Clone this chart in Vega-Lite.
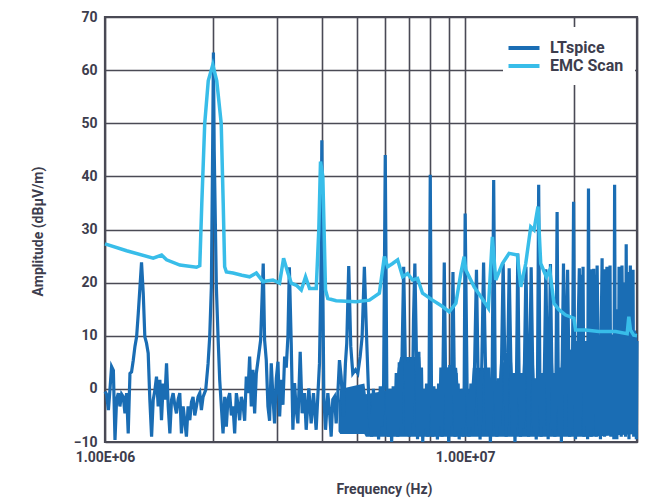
{
  "$schema": "https://vega.github.io/schema/vega-lite/v6.json",
  "width": 532,
  "height": 425,
  "autosize": {"type": "none"},
  "padding": {"left": 105, "top": 17, "right": 15, "bottom": 62},
  "config": {
    "font": "Roboto",
    "view": {"stroke": "#4a4a55", "strokeWidth": 2.2},
    "axis": {
      "labelFont": "Roboto", "labelFontWeight": "bold", "labelFontSize": 14, "labelColor": "#3d3d4d",
      "titleFont": "Roboto", "titleFontWeight": "bold", "titleFontSize": 14, "titleColor": "#3d3d4d",
      "ticks": false, "domain": false, "gridColor": "#4a4a55", "gridWidth": 1.6, "gridOpacity": 1,
      "labelPadding": 8, "labelFlush": false
    }
  },
  "datasets": {
    "floor": [
      {"f":4.45,"lo":-8,"hi":-3},{"f":4.5,"lo":-8.5,"hi":0},{"f":5.25,"lo":-8.5,"hi":1},{"f":5.3,"lo":-9,"hi":-1},
      {"f":6.4,"lo":-9,"hi":0},{"f":6.5,"lo":-9,"hi":4},{"f":6.6,"lo":-9,"hi":6},{"f":7.5,"lo":-9,"hi":6},
      {"f":7.6,"lo":-9,"hi":0},{"f":8.5,"lo":-9,"hi":0},{"f":8.6,"lo":-9,"hi":4},{"f":9.5,"lo":-9,"hi":4},
      {"f":9.6,"lo":-9,"hi":0},{"f":10.4,"lo":-9,"hi":0},{"f":10.5,"lo":-9,"hi":4},{"f":11.5,"lo":-9,"hi":4},
      {"f":11.6,"lo":-9,"hi":1},{"f":12.4,"lo":-9,"hi":1},{"f":12.5,"lo":-9,"hi":5},{"f":13.5,"lo":-9,"hi":5},
      {"f":13.6,"lo":-9,"hi":1},{"f":14.4,"lo":-9,"hi":1},{"f":14.5,"lo":-9,"hi":6},{"f":15.5,"lo":-9,"hi":6},
      {"f":15.6,"lo":-9,"hi":1},{"f":16.4,"lo":-9,"hi":1},{"f":16.5,"lo":-9,"hi":6.5},{"f":17.5,"lo":-9,"hi":6.5},
      {"f":17.6,"lo":-9,"hi":2},{"f":18.4,"lo":-9,"hi":3},{"f":18.5,"lo":-9,"hi":7.5},{"f":19.5,"lo":-9,"hi":7.5},
      {"f":20.0,"lo":-9,"hi":7},{"f":20.5,"lo":-9,"hi":9},{"f":21.5,"lo":-9,"hi":9},{"f":22.0,"lo":-9,"hi":8},
      {"f":22.5,"lo":-9,"hi":10},{"f":30.0,"lo":-8.5,"hi":10.5}
    ],
    "lt": [
      {"f":1.0,"a":-0.5},{"f":1.01,"a":-1},{"f":1.022,"a":-4},{"f":1.03,"a":-1},{"f":1.043,"a":4.2},{"f":1.055,"a":3.5},
      {"f":1.066,"a":-9.6},{"f":1.077,"a":-2},{"f":1.089,"a":-0.8},{"f":1.1,"a":-3.3},{"f":1.112,"a":-1},{"f":1.124,"a":-1.5},
      {"f":1.136,"a":-4.6},{"f":1.148,"a":-0.8},{"f":1.16,"a":-8.4},{"f":1.173,"a":2.9},{"f":1.185,"a":3.2},{"f":1.198,"a":5.4},
      {"f":1.211,"a":8.0},{"f":1.224,"a":9.8},{"f":1.237,"a":14.2},{"f":1.25,"a":19},{"f":1.263,"a":23.8},{"f":1.277,"a":18},
      {"f":1.29,"a":9.8},{"f":1.304,"a":8.6},{"f":1.318,"a":6.7},{"f":1.332,"a":-2.1},{"f":1.347,"a":-9.0},{"f":1.361,"a":-2.1},
      {"f":1.376,"a":-0.2},{"f":1.39,"a":2.3},{"f":1.405,"a":-3.3},{"f":1.42,"a":1.7},{"f":1.435,"a":-5.9},{"f":1.451,"a":1.0},
      {"f":1.466,"a":-2},{"f":1.482,"a":4.8},{"f":1.498,"a":-3.3},{"f":1.514,"a":-8.4},{"f":1.53,"a":-2.1},{"f":1.546,"a":-0.8},
      {"f":1.562,"a":-3},{"f":1.579,"a":-4.6},{"f":1.596,"a":-2},{"f":1.613,"a":-0.8},{"f":1.63,"a":-8.4},{"f":1.648,"a":-3.3},
      {"f":1.665,"a":-6},{"f":1.683,"a":-9.0},{"f":1.701,"a":-3.3},{"f":1.72,"a":-5.9},{"f":1.738,"a":-2.5},{"f":1.756,"a":-1.5},
      {"f":1.775,"a":-5},{"f":1.794,"a":-3.3},{"f":1.813,"a":-1.5},{"f":1.833,"a":-0.8},{"f":1.852,"a":-4},{"f":1.872,"a":-1.5},
      {"f":1.904,"a":-0.2},{"f":1.933,"a":4.8},{"f":1.953,"a":9.8},{"f":1.974,"a":19.2},{"f":1.99,"a":45},{"f":2.0,"a":63.3},
      {"f":2.01,"a":45},{"f":2.038,"a":19.2},{"f":2.06,"a":9.8},{"f":2.082,"a":1.7},{"f":2.104,"a":-3.3},{"f":2.127,"a":-8.4},
      {"f":2.15,"a":-1.5},{"f":2.172,"a":-7.1},{"f":2.195,"a":-2},{"f":2.219,"a":-0.8},{"f":2.243,"a":-5},{"f":2.267,"a":-3.3},
      {"f":2.291,"a":-8.4},{"f":2.316,"a":-0.8},{"f":2.34,"a":-3},{"f":2.365,"a":-5.9},{"f":2.39,"a":-1.5},{"f":2.416,"a":-2.8},
      {"f":2.442,"a":-6},{"f":2.468,"a":2.3},{"f":2.494,"a":-0.8},{"f":2.521,"a":6.1},{"f":2.548,"a":-3.3},{"f":2.575,"a":3.6},
      {"f":2.603,"a":-4.6},{"f":2.631,"a":2.9},{"f":2.676,"a":6.7},{"f":2.705,"a":9.2},{"f":2.75,"a":23.6},{"f":2.774,"a":9.2},
      {"f":2.804,"a":5.4},{"f":2.834,"a":-3.3},{"f":2.864,"a":-6},{"f":2.895,"a":4.8},{"f":2.926,"a":-1.5},{"f":2.957,"a":-6.5},
      {"f":2.99,"a":2},{"f":3.022,"a":5.1},{"f":3.054,"a":-5.2},{"f":3.087,"a":1.7},{"f":3.119,"a":-3},{"f":3.153,"a":6.1},
      {"f":3.186,"a":4},{"f":3.22,"a":9.8},{"f":3.25,"a":22.9},{"f":3.289,"a":8.6},{"f":3.324,"a":-7.7},{"f":3.36,"a":1.1},
      {"f":3.396,"a":-4},{"f":3.432,"a":-6.5},{"f":3.483,"a":7.0},{"f":3.527,"a":-4.6},{"f":3.581,"a":-0.8},{"f":3.619,"a":-7.7},
      {"f":3.681,"a":0.1},{"f":3.736,"a":-6.5},{"f":3.792,"a":-0.8},{"f":3.857,"a":-7.7},{"f":3.898,"a":-1.5},{"f":3.94,"a":4.8},
      {"f":3.975,"a":20},{"f":4.0,"a":46.8},{"f":4.025,"a":20},{"f":4.051,"a":-1.5},{"f":4.095,"a":-7.7},{"f":4.156,"a":-0.8},
      {"f":4.2,"a":-4},{"f":4.246,"a":-9.0},{"f":4.29,"a":-2},{"f":4.337,"a":-1.5},{"f":4.384,"a":-6.5},{"f":4.43,"a":-1},
      {"f":4.477,"a":5.4},{"f":4.525,"a":2.3},{"f":4.592,"a":-5.2},{"f":4.651,"a":4.8},{"f":4.691,"a":8.6},{"f":4.75,"a":23.1},
      {"f":4.813,"a":8.0},{"f":4.875,"a":2.9},{"f":4.959,"a":3.6},{"f":5.034,"a":2.9},{"f":5.11,"a":6.1},{"f":5.175,"a":9.8},
      {"f":5.25,"a":23.0},{"f":5.332,"a":8.6},{"f":5.421,"a":-5.2},
      {"f":5.5,"a":-9},{"f":5.5625,"a":0},{"f":5.625,"a":-8},{"f":5.6875,"a":-1},{"f":5.75,"a":-9.5},{"f":5.8125,"a":0.5},
      {"f":5.875,"a":-7},{"f":5.9375,"a":1},{"f":6.0,"a":44},{"f":6.0625,"a":-1},{"f":6.125,"a":-9},{"f":6.1875,"a":0},
      {"f":6.25,"a":-10},{"f":6.3125,"a":0.5},{"f":6.375,"a":-8},{"f":6.4375,"a":3},{"f":6.5,"a":-9},{"f":6.5625,"a":5},
      {"f":6.625,"a":-7},{"f":6.6875,"a":8},{"f":6.75,"a":23},{"f":6.8125,"a":7},{"f":6.875,"a":-8.5},{"f":6.9375,"a":5},
      {"f":7.0,"a":-9},{"f":7.0625,"a":5.5},{"f":7.125,"a":-6.5},{"f":7.1875,"a":13},{"f":7.25,"a":23.6},{"f":7.3125,"a":9},
      {"f":7.375,"a":-9.5},{"f":7.4375,"a":7},{"f":7.5,"a":-8},{"f":7.5625,"a":4},{"f":7.625,"a":-10},{"f":7.6875,"a":0},
      {"f":7.75,"a":-7.5},{"f":7.8125,"a":1},{"f":7.875,"a":-9},{"f":7.9375,"a":0},{"f":8.0,"a":40.3},{"f":8.0625,"a":-0.5},
      {"f":8.125,"a":-9},{"f":8.1875,"a":0.5},{"f":8.25,"a":-8},{"f":8.3125,"a":-0.5},{"f":8.375,"a":-9.5},{"f":8.4375,"a":1},
      {"f":8.5,"a":-7},{"f":8.5625,"a":4},{"f":8.625,"a":-9},{"f":8.6875,"a":6},{"f":8.75,"a":23.8},{"f":8.8125,"a":5},
      {"f":8.875,"a":-8.5},{"f":8.9375,"a":4},{"f":9.0,"a":-10},{"f":9.0625,"a":4.5},{"f":9.125,"a":-7},{"f":9.1875,"a":7},
      {"f":9.25,"a":22},{"f":9.3125,"a":6},{"f":9.375,"a":-9},{"f":9.4375,"a":3},{"f":9.5,"a":-8},{"f":9.5625,"a":1},
      {"f":9.625,"a":-9.5},{"f":9.6875,"a":-0.5},{"f":9.75,"a":-7.5},{"f":9.8125,"a":0},{"f":9.875,"a":-9},{"f":9.9375,"a":0.5},
      {"f":10.0,"a":33},
      {"f":10.125,"a":0},{"f":10.25,"a":-9},{"f":10.375,"a":1},{"f":10.5,"a":-8},{"f":10.625,"a":5},{"f":10.75,"a":22.4},
      {"f":10.875,"a":0},{"f":11.0,"a":-9.5},{"f":11.125,"a":5},{"f":11.25,"a":23.8},{"f":11.375,"a":6},{"f":11.5,"a":-8},
      {"f":11.625,"a":4},{"f":11.75,"a":-10},{"f":11.875,"a":-1},{"f":12.0,"a":39.3},{"f":12.125,"a":-1},{"f":12.25,"a":-9},
      {"f":12.375,"a":2},{"f":12.5,"a":-7},{"f":12.625,"a":6},{"f":12.75,"a":23.6},{"f":12.875,"a":6.5},{"f":13.0,"a":-9},
      {"f":13.125,"a":5},{"f":13.25,"a":22.7},{"f":13.375,"a":7},{"f":13.5,"a":-8.5},{"f":13.625,"a":3},{"f":13.75,"a":-10},
      {"f":13.875,"a":0},{"f":14.0,"a":25.5},{"f":14.125,"a":0},{"f":14.25,"a":-9},{"f":14.375,"a":3},{"f":14.5,"a":-7.5},
      {"f":14.625,"a":6.5},{"f":14.75,"a":23},{"f":14.875,"a":7},{"f":15.0,"a":-9},{"f":15.125,"a":6},{"f":15.25,"a":22.9},
      {"f":15.375,"a":7},{"f":15.5,"a":-8},{"f":15.625,"a":2},{"f":15.75,"a":-9.5},{"f":15.875,"a":0},{"f":16.0,"a":38.4},
      {"f":16.125,"a":0},{"f":16.25,"a":-9},{"f":16.375,"a":3},{"f":16.5,"a":-7},{"f":16.625,"a":7},{"f":16.75,"a":22.5},
      {"f":16.875,"a":7.5},{"f":17.0,"a":-9.5},{"f":17.125,"a":7},{"f":17.25,"a":23.5},{"f":17.375,"a":7},{"f":17.5,"a":-8},
      {"f":17.625,"a":3},{"f":17.75,"a":-9},{"f":17.875,"a":2},{"f":18.0,"a":33.3},{"f":18.125,"a":2},{"f":18.25,"a":-8.5},
      {"f":18.375,"a":4},{"f":18.5,"a":-10},{"f":18.625,"a":8},{"f":18.75,"a":23.6},{"f":18.875,"a":8.5},{"f":19.0,"a":-8},
      {"f":19.125,"a":12},{"f":19.25,"a":22.4},{"f":19.375,"a":8},{"f":19.5,"a":-9},{"f":19.625,"a":7},{"f":19.75,"a":-7.5},
      {"f":19.875,"a":7},{"f":20.0,"a":35.2},{"f":20.125,"a":7},{"f":20.25,"a":-9.5},{"f":20.375,"a":9},{"f":20.5,"a":-8},
      {"f":20.625,"a":14},{"f":20.75,"a":22.7},{"f":20.875,"a":-8.5},{"f":21.0,"a":21.5},{"f":21.125,"a":10},{"f":21.25,"a":23},
      {"f":21.375,"a":-9},{"f":21.5,"a":9},{"f":21.625,"a":-7},{"f":21.75,"a":8},{"f":21.875,"a":-9.5},{"f":22.0,"a":37.7},
      {"f":22.125,"a":-8},{"f":22.25,"a":10},{"f":22.375,"a":-9},{"f":22.5,"a":22.5},{"f":22.625,"a":-7.5},{"f":22.75,"a":22.6},
      {"f":22.875,"a":11},{"f":23.0,"a":21.5},{"f":23.125,"a":-9},{"f":23.25,"a":23.2},{"f":23.375,"a":10},{"f":23.5,"a":-8},
      {"f":23.625,"a":7},{"f":23.75,"a":-9.5},{"f":23.875,"a":12},{"f":24.0,"a":24.6},{"f":24.125,"a":-8.5},{"f":24.25,"a":10},
      {"f":24.375,"a":-9},{"f":24.5,"a":22.5},{"f":24.625,"a":11},{"f":24.75,"a":23},{"f":24.875,"a":-8},{"f":25.0,"a":22},
      {"f":25.125,"a":10},{"f":25.25,"a":23.2},{"f":25.375,"a":-9},{"f":25.5,"a":9},{"f":25.625,"a":-7},{"f":25.75,"a":10},
      {"f":25.875,"a":-9.5},{"f":26.0,"a":38.4},{"f":26.125,"a":-8},{"f":26.25,"a":11},{"f":26.375,"a":-9.5},{"f":26.5,"a":15},
      {"f":26.625,"a":-8},{"f":26.75,"a":23},{"f":26.875,"a":11},{"f":27.0,"a":21},{"f":27.125,"a":-9},{"f":27.25,"a":23.2},
      {"f":27.375,"a":11},{"f":27.5,"a":20},{"f":27.625,"a":-8.5},{"f":27.75,"a":10},{"f":27.875,"a":-9},{"f":28.0,"a":27.2},
      {"f":28.125,"a":-8},{"f":28.25,"a":22},{"f":28.375,"a":11},{"f":28.5,"a":-9.5},{"f":28.625,"a":12},{"f":28.75,"a":23.2},
      {"f":28.875,"a":-8},{"f":29.0,"a":21},{"f":29.125,"a":10},{"f":29.25,"a":22.4},{"f":29.375,"a":-9},{"f":29.5,"a":11},
      {"f":29.625,"a":-8},{"f":29.75,"a":10},{"f":29.875,"a":-9.5},{"f":30.0,"a":9}
    ],
    "emc": [
      {"f":1.0,"a":27.3},{"f":1.148,"a":26.0},{"f":1.361,"a":24.6},{"f":1.436,"a":25.2},{"f":1.482,"a":24.3},{"f":1.614,"a":23.3},
      {"f":1.795,"a":22.9},{"f":1.833,"a":23.2},{"f":1.857,"a":35},{"f":1.892,"a":50},{"f":1.935,"a":58},{"f":1.992,"a":61},
      {"f":2.043,"a":58},{"f":2.102,"a":50},{"f":2.129,"a":35},{"f":2.149,"a":23},{"f":2.173,"a":22},{"f":2.267,"a":21.8},
      {"f":2.4,"a":21.4},{"f":2.521,"a":21.1},{"f":2.632,"a":21.8},{"f":2.746,"a":20.2},{"f":2.926,"a":20.5},{"f":3.053,"a":19.9},
      {"f":3.132,"a":24.6},{"f":3.22,"a":21.8},{"f":3.29,"a":19.9},{"f":3.4,"a":19.5},{"f":3.507,"a":18.6},{"f":3.605,"a":21.1},
      {"f":3.698,"a":18.9},{"f":3.859,"a":18.9},{"f":3.923,"a":29.9},{"f":3.966,"a":42.8},{"f":4.025,"a":40},{"f":4.095,"a":18.6},
      {"f":4.156,"a":17},{"f":4.384,"a":16.6},{"f":4.98,"a":16.4},{"f":5.421,"a":16.7},{"f":5.778,"a":18.0},{"f":5.966,"a":24.9},
      {"f":6.094,"a":23.0},{"f":6.29,"a":23.6},{"f":6.494,"a":24.3},{"f":6.705,"a":21.1},{"f":6.922,"a":21.7},{"f":7.145,"a":20.5},
      {"f":7.377,"a":20.8},{"f":7.615,"a":18.0},{"f":8.118,"a":16.7},{"f":8.652,"a":15.5},{"f":9.03,"a":14.5},{"f":9.424,"a":16.1},
      {"f":9.73,"a":21.8},{"f":9.936,"a":24.9},{"f":10.04,"a":22.4},{"f":10.59,"a":19.2},{"f":11.05,"a":17.4},{"f":11.6,"a":15.2},
      {"f":11.9,"a":28.6},{"f":12.16,"a":20.5},{"f":12.69,"a":23.6},{"f":13.24,"a":25.5},{"f":13.96,"a":25.2},{"f":14.27,"a":19.2},
      {"f":14.73,"a":23.6},{"f":15.21,"a":30.5},{"f":15.53,"a":29.9},{"f":15.93,"a":34.3},{"f":16.21,"a":23.6},{"f":16.8,"a":21.1},
      {"f":17.17,"a":22.4},{"f":17.64,"a":16.1},{"f":18.21,"a":14.9},{"f":19.01,"a":13.9},{"f":20.04,"a":13.3},{"f":20.26,"a":11.1},
      {"f":21.6,"a":11.1},{"f":23.5,"a":10.8},{"f":26.16,"a":10.8},{"f":28.17,"a":10.4},{"f":28.47,"a":13.6},{"f":28.77,"a":11.1},
      {"f":29.38,"a":10.1},{"f":30.0,"a":10}
    ]
  },
  "encoding": {
    "x": {
      "field": "f", "type": "quantitative",
      "scale": {"type": "log", "domain": [1, 30], "nice": false},
      "axis": {
        "values": [1, 2, 3, 4, 5, 6, 7, 8, 9, 10, 20, 30],
        "labelExpr": "datum.value == 1 ? '1.00E+06' : (datum.value == 10 ? '1.00E+07' : '')",
        "title": "Frequency (Hz)", "titleX": 279, "titleY": 47, "titleAlign": "center", "titleBaseline": "middle"
      }
    },
    "y": {
      "field": "a", "type": "quantitative",
      "scale": {"domain": [-10, 70], "nice": false},
      "axis": {
        "values": [-10, 0, 10, 20, 30, 40, 50, 60, 70],
        "title": "Amplitude (dBµV/m)", "titleX": -67, "titleY": 214, "titleAlign": "center", "titleBaseline": "middle"
      }
    }
  },
  "layer": [
    {
      "data": {"name": "floor"},
      "mark": {"type": "area", "color": "#1a6db4", "opacity": 1},
      "encoding": {
        "y": {"field": "lo", "type": "quantitative"},
        "y2": {"field": "hi"}
      }
    },
    {
      "data": {"name": "lt"},
      "mark": {"type": "line", "strokeWidth": 3.2},
      "encoding": {
        "color": {
          "datum": "LTspice",
          "scale": {"domain": ["LTspice", "EMC Scan"], "range": ["#1a6db4", "#38bde9"]},
          "legend": {
            "title": null, "orient": "none", "legendX": 398, "legendY": 10,
            "fillColor": "white", "padding": 11, "symbolType": "M-2,0H2", "symbolSize": 240,
            "symbolStrokeWidth": 4, "labelFont": "Roboto", "labelFontWeight": "bold", "labelFontSize": 16,
            "labelColor": "#3d3d4d", "labelOffset": 16, "rowPadding": 0
          }
        }
      }
    },
    {
      "data": {"name": "emc"},
      "mark": {"type": "line", "strokeWidth": 3.5},
      "encoding": {"color": {"datum": "EMC Scan"}}
    }
  ]
}
